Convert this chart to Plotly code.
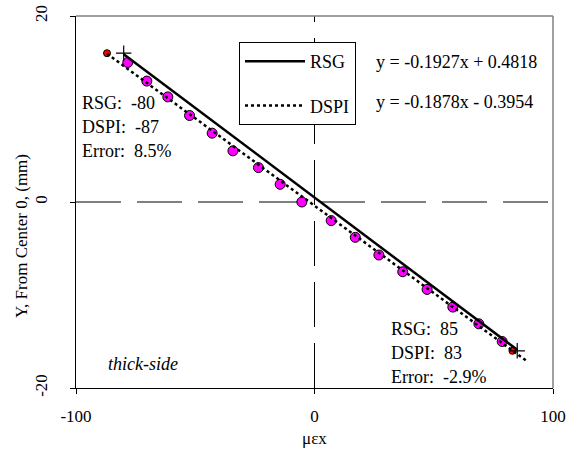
import plotly.graph_objects as go

# ---- data ----
dspi_x = [-78.3, -70.3, -61.5, -52.4, -42.9, -34.2, -23.5, -14.4, -5.3,
          7.0, 17.1, 27.0, 37.0, 47.2, 58.0, 68.9, 78.7]
dspi_y = [15.0, 13.0, 11.3, 9.3, 7.4, 5.5, 3.7, 1.9, 0.0,
          -2.0, -3.8, -5.7, -7.5, -9.4, -11.3, -13.1, -15.0]
dspi_end_x = [-87, 83]
dspi_end_y = [16, -16]
rsg_x = [-80, 85]
rsg_y = [16, -16]

# trend lines (as printed on the chart)
rsg_slope, rsg_icpt = -0.1927, 0.4818
dspi_slope, dspi_icpt = -0.1878, -0.3954
rsg_line_x = [-80, 85]
dspi_line_x = [-87, 89]
rsg_line_y = [rsg_slope * v + rsg_icpt for v in rsg_line_x]
dspi_line_y = [dspi_slope * v + dspi_icpt for v in dspi_line_x]

x_ticks = [-100, 0, 100]
x_tick_text = ["-100", "0", "100"]
y_ticks = [-20, 0, 20]
y_tick_text = ["-20", "0", "20"]

FONT = "Liberation Serif, Times New Roman, DejaVu Serif, serif"
FS = 17
FA = 18

fig = go.Figure()
fig.add_trace(go.Scatter(x=dspi_x, y=dspi_y, mode="markers", showlegend=False,
                         marker=dict(color="#ff00ff", size=10,
                                     line=dict(color="black", width=1))))
fig.add_trace(go.Scatter(x=dspi_end_x, y=dspi_end_y, mode="markers", showlegend=False,
                         marker=dict(color="#ff0000", size=7,
                                     line=dict(color="black", width=1))))
fig.add_trace(go.Scatter(x=rsg_line_x, y=rsg_line_y, mode="lines", name="RSG",
                         legendgroup="a",
                         line=dict(color="black", width=2.5)))
fig.add_trace(go.Scatter(x=dspi_line_x, y=dspi_line_y, mode="lines", name="DSPI",
                         legendgroup="b",
                         line=dict(color="black", width=2.5, dash="dot")))
fig.add_trace(go.Scatter(x=rsg_x, y=rsg_y, mode="markers", showlegend=False,
                         marker=dict(symbol="cross-thin", size=11,
                                     line=dict(color="black", width=1.2))))

W, H = 574, 455
L, T = 76, 16
pw, ph = 553 - 76, 388 - 16
R, B = W - L - pw, H - T - ph


def px(xp):
    return (xp - L) / pw


def py(yp):
    return 1 - (yp - T) / ph


shapes = [
    dict(type="line", xref="paper", yref="y", x0=0, x1=1, y0=0, y1=0,
         line=dict(color="black", width=1, dash="45px,16px"), layer="below"),
    dict(type="line", xref="x", yref="paper", x0=0, x1=0, y0=0, y1=1,
         line=dict(color="black", width=1, dash="45px,16px"), layer="below"),
    dict(type="line", xref="paper", yref="paper", x0=0, x1=1, y0=1, y1=1,
         line=dict(color="#808080", width=1.5)),
    dict(type="line", xref="paper", yref="paper", x0=1, x1=1, y0=0, y1=1,
         line=dict(color="#808080", width=1.5)),
]

ann = []


def text(xp, yp, s, italic=False, anchor="left"):
    ann.append(dict(xref="paper", yref="paper", x=px(xp), y=py(yp), text=s,
                    showarrow=False, xanchor=anchor, yanchor="middle",
                    font=dict(family=FONT, size=FA, color="black",
                              style="italic" if italic else "normal")))


nb = "\u00a0"
text(80, 103, "RSG:" + nb + nb + "-80")
text(80, 127, "DSPI:" + nb + nb + "-87")
text(80, 151, "Error:" + nb + nb + "8.5%")
text(389, 329, "RSG:" + nb + nb + "85")
text(389, 353, "DSPI:" + nb + nb + "83")
text(389, 377, "Error:" + nb + nb + "-2.9%")
text(106, 364, "thick-side", italic=True)
text(374, 62, f"y = {rsg_slope}x + {rsg_icpt}")
text(374, 102, f"y = {dspi_slope}x - {abs(dspi_icpt)}")
ann.append(dict(xref="paper", yref="paper", x=px(21), y=py(236),
                text="Y, From Center 0, (mm)", textangle=-90, showarrow=False,
                xanchor="center", yanchor="middle",
                font=dict(family=FONT, size=FS, color="black")))

fig.update_layout(
    width=W, height=H,
    margin=dict(l=L, r=R, t=T, b=B, autoexpand=False),
    paper_bgcolor="white", plot_bgcolor="white",
    font=dict(family=FONT, size=FS, color="black"),
    shapes=shapes, annotations=ann,
    legend=dict(x=px(239), y=py(42), xanchor="left", yanchor="top",
                bgcolor="white", bordercolor="black", borderwidth=1,
                tracegroupgap=18, itemwidth=60,
                font=dict(family=FONT, size=FA, color="black")),
    xaxis=dict(range=[-100, 100], tickvals=x_ticks, ticktext=x_tick_text,
               showgrid=False, zeroline=False, automargin=False,
               showline=True, linecolor="black", linewidth=1,
               ticks="outside", ticklen=5, tickcolor="black",
               ticklabelstandoff=8, ticklabeloverflow="allow",
               title=dict(text="μεx", standoff=6,
                          font=dict(family=FONT, size=FS))),
    yaxis=dict(range=[-20, 20], tickvals=y_ticks, ticktext=y_tick_text,
               showgrid=False, zeroline=False, automargin=False,
               showline=True, linecolor="black", linewidth=1,
               ticks="outside", ticklen=5, tickcolor="black",
               tickangle=-90, ticklabelstandoff=16, ticklabeloverflow="allow"),
)

# remove the browser's default 8px body margin so the figure fills the window
fig.write_html("out.html",
               config={"displayModeBar": False},
               post_script="document.body.style.margin='0';")
